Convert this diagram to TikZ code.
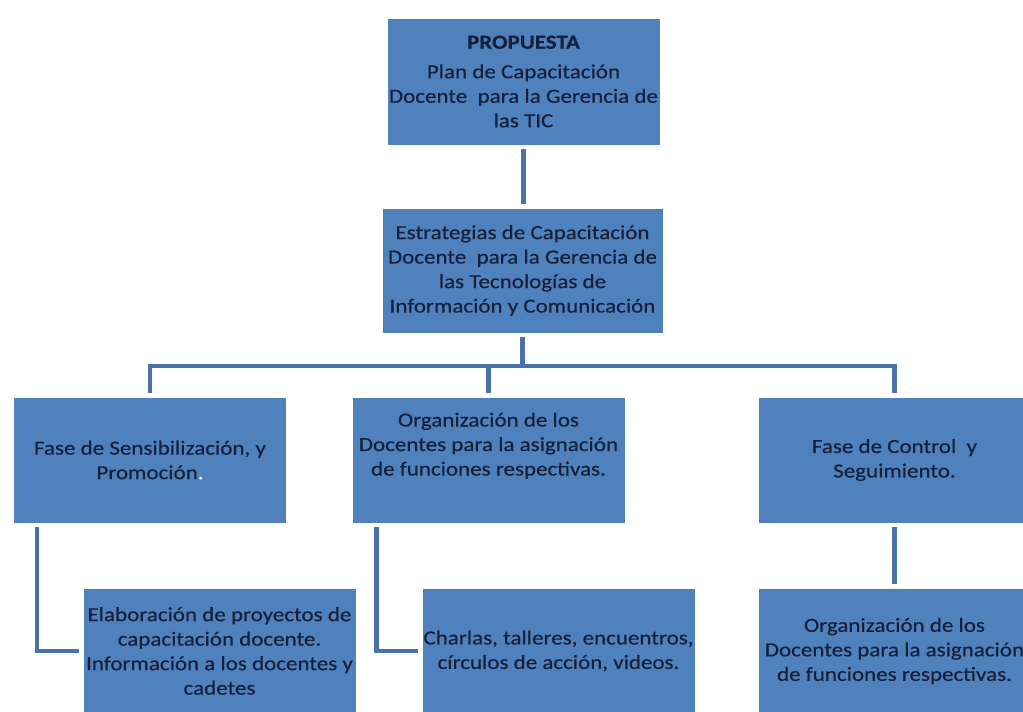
\documentclass[tikz,border=0pt]{standalone}
\usepackage{fontspec}
\setmainfont{Carlito}[FakeStretch=1.15,FakeBold=0.4]
\usetikzlibrary{calc}
\definecolor{boxblue}{HTML}{4F81BD}
\definecolor{lineblue}{HTML}{4A72AA}
\definecolor{txt}{HTML}{16203A}
\begin{document}
\begin{tikzpicture}[x=1pt,y=-1pt,
  box/.style={fill=boxblue, draw=white, line width=0.6pt, minimum width=273pt,
    minimum height=126pt, inner sep=0pt, align=center, text=txt,
    font=\fontsize{20}{24.5}\selectfont},
  link/.style={draw=lineblue, line width=4.5pt, shorten >=4pt, shorten <=4pt}]
\useasboundingbox (0,0) rectangle (1023,712);
\clip (0,0) rectangle (1023,712);
\fill[white] (0,0) rectangle (1023,712);

\node[box, minimum height=127pt] (top) at (523.5,81.5)
  {\textbf{PROPUESTA}\\[5pt]Plan de Capacitación\\Docente\ \ para la Gerencia de\\las TIC};
\node[box, minimum width=281pt, minimum height=125pt] (estr) at (522.5,270.5)
  {Estrategias de Capacitación\\Docente\ \ para la Gerencia de\\las Tecnologías de\\Información y Comunicación};
\node[box] (fs) at (150,460) {Fase de Sensibilización, y\\Promoción\textcolor{white}{.}};
\node[box] (org) at (488.5,460) {Organización de los\\Docentes para la asignación\\de funciones respectivas.\\\strut};
\node[box] (fc) at (894.5,460) {Fase de Control\ \ y\\Seguimiento.};
\node[box] (elab) at (219.5,651) {Elaboración de proyectos de\\capacitación docente.\\Información a los docentes y\\cadetes};
\node[box] (charl) at (558.5,651) {Charlas, talleres, encuentros,\\círculos de acción, videos.};
\node[box] (org2) at (894.5,651) {Organización de los\\Docentes para la asignación\\de funciones respectivas.};

\coordinate (bus) at (0,366);
\draw[link] (top.south) -- (top.south |- estr.north);
\draw[link] (estr.south) -- (estr.south |- bus) -| (fs.north);
\draw[link] (estr.south) -- (estr.south |- bus) -| (org.north);
\draw[link] (estr.south) -- (estr.south |- bus) -| (fc.north);
\draw[link] ($(fs.south west)+(24,0)$) |- (elab.west);
\draw[link] ($(org.south west)+(25,0)$) |- (charl.west);
\draw[link] (fc.south) -- (org2.north);
\end{tikzpicture}
\end{document}
